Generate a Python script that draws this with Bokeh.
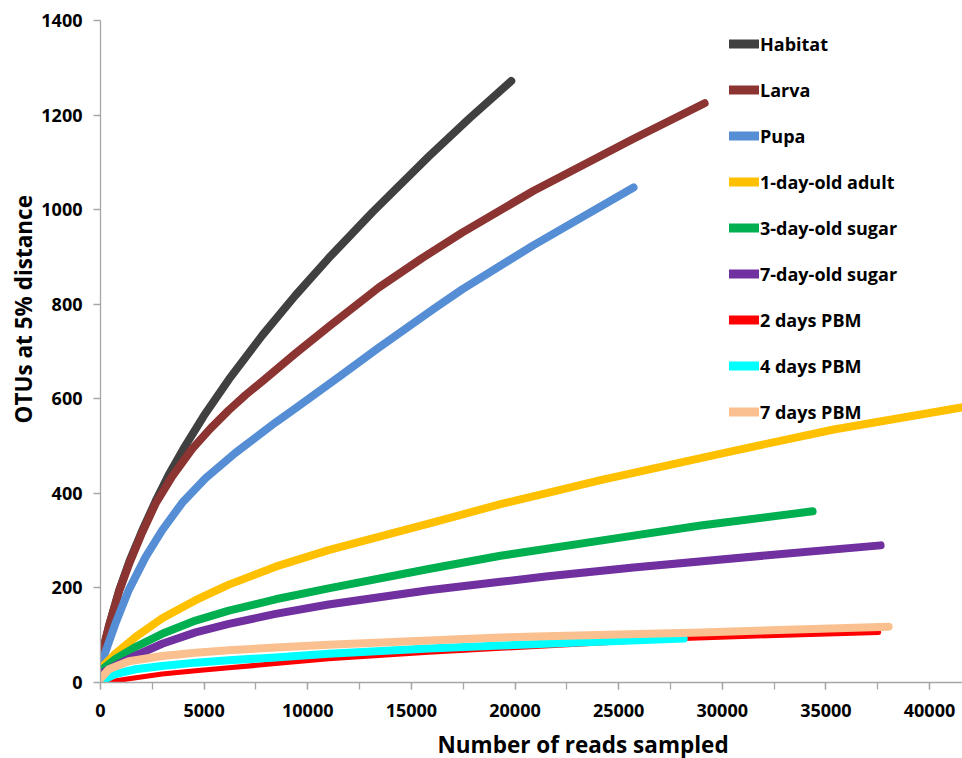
import math
from bokeh.plotting import figure
from bokeh.models import (SingleIntervalTicker, NumeralTickFormatter, Legend, LegendItem, Title)
from bokeh.embed import file_html
from bokeh.resources import INLINE

# ---------------- data ----------------
names = ["Habitat", "Larva", "Pupa", "1-day-old adult", "3-day-old sugar",
         "7-day-old sugar", "2 days PBM", "4 days PBM", "7 days PBM"]
colors = ["#404040", "#8B3431", "#558ED5", "#FFC000", "#00B050",
          "#7030A0", "#FF0000", "#00FFFF", "#FAC090"]

habitat_x = [0, 400, 900, 1400, 2000, 2654, 3300, 4000, 4986, 6193, 7803, 9411, 11000, 13130, 15830, 17800, 19820]
habitat_y = [45, 118, 195, 257, 320, 383, 440, 494, 564, 641, 734, 819, 897, 995, 1112, 1193, 1272]

larva_x = [0, 400, 900, 1400, 2000, 2654, 3459, 4424, 5300, 6193, 7000, 7803, 9410, 11000, 13420, 15500, 17470, 20900, 25720, 29150]
larva_y = [50, 118, 193, 253, 316, 378, 436, 494, 537, 576, 608, 637, 696, 752, 835, 897, 952, 1040, 1150, 1225]

pupa_x = [0, 241, 724, 1367, 2172, 2976, 3941, 5067, 6515, 8445, 9411, 11680, 13420, 16070, 17470, 20900, 25720]
pupa_y = [32, 65, 125, 196, 265, 322, 380, 432, 486, 550, 580, 652, 708, 790, 832, 925, 1047]

adult1_x = [0, 724, 1689, 2976, 4585, 6193, 8445, 11000, 15830, 19300, 21480, 24130, 30550, 35380, 41600]
adult1_y = [29, 61, 96, 136, 174, 207, 245, 280, 336, 377, 400, 428, 490, 535, 582]

sugar3_x = [0, 724, 1689, 2976, 4585, 6193, 8445, 11000, 15830, 19300, 24130, 28960, 34360]
sugar3_y = [25, 50, 75, 103, 131, 152, 176, 199, 240, 268, 300, 332, 362]

sugar7_x = [0, 724, 1689, 2976, 4585, 6193, 8445, 11000, 15830, 19300, 21480, 25720, 32190, 37640]
sugar7_y = [18, 36, 57, 82, 106, 124, 145, 165, 195, 213, 224, 243, 269, 290]

pbm2_x = [241, 1367, 2976, 4585, 6193, 8445, 11000, 15830, 28140, 32190, 37550]
pbm2_y = [0, 8, 18, 25, 31, 40, 50, 64, 93, 99, 106]

pbm4_x = [0, 724, 1689, 2976, 4585, 6193, 8445, 11000, 15830, 19300, 21480, 28140]
pbm4_y = [2, 18, 28, 35, 42, 47, 53, 61, 72, 78, 82, 93]

pbm7_x = [0, 402, 1367, 2976, 4585, 6193, 8445, 11000, 15830, 19300, 21480, 28960, 38030]
pbm7_y = [8, 28, 45, 56, 63, 68, 74, 80, 89, 95, 98, 106, 118]

xs = [habitat_x, larva_x, pupa_x, adult1_x, sugar3_x, sugar7_x, pbm2_x, pbm4_x, pbm7_x]
ys = [habitat_y, larva_y, pupa_y, adult1_y, sugar3_y, sugar7_y, pbm2_y, pbm4_y, pbm7_y]
widths = [8, 8, 8, 8, 8, 8, 5, 8, 8]

x_ticks_interval = 5000
y_ticks_interval = 200

FONT = "Open Sans"

p = figure(frame_width=862, frame_height=662, min_border_left=100, min_border_right=0,
           min_border_top=20, min_border_bottom=76,
           x_range=(0, 41592), y_range=(0, 1400),
           output_backend="svg", toolbar_location=None)
p.grid.visible = False
p.outline_line_color = None
p.background_fill_color = "white"

for x, y, c, w in zip(xs, ys, colors, widths):
    p.line(x, y, line_color=c, line_width=w, line_cap="round", line_join="round")

# legend samples: hidden copies of the same series, drawn with a uniform thick stroke
items = []
for n, c, x, y in zip(names, colors, xs, ys):
    r = p.line(x, y, line_color=c, line_width=9, line_cap="round", visible=False)
    items.append(LegendItem(label=n, renderers=[r]))
legend = Legend(items=items, location=(629, 258), orientation="vertical",
                glyph_width=30, glyph_height=25, label_height=25, spacing=21,
                label_standoff=1, padding=0, margin=0,
                border_line_color=None, background_fill_alpha=0,
                label_text_font=FONT, label_text_font_style="bold",
                label_text_font_size="18px", label_text_color="black")
p.add_layout(legend, "center")

# axes
for ax in (p.xaxis[0], p.yaxis[0]):
    ax.axis_line_color = "#A6A6A6"
    ax.axis_line_width = 1.3
    ax.major_tick_line_color = "#A6A6A6"
    ax.minor_tick_line_color = "#A6A6A6"
    ax.major_tick_line_width = 1.3
    ax.minor_tick_line_width = 1.3
    ax.major_tick_in = 0
    ax.major_tick_out = 7
    ax.minor_tick_in = 0
    ax.minor_tick_out = 7
    ax.major_label_text_font = FONT
    ax.major_label_text_font_style = "bold"
    ax.major_label_text_font_size = "18px"
    ax.major_label_text_color = "black"

p.xaxis[0].ticker = SingleIntervalTicker(interval=x_ticks_interval, num_minor_ticks=2)
p.yaxis[0].ticker = SingleIntervalTicker(interval=y_ticks_interval, num_minor_ticks=0)
p.xaxis[0].formatter = NumeralTickFormatter(format="0")
p.yaxis[0].formatter = NumeralTickFormatter(format="0")
p.xaxis[0].major_label_standoff = 14
p.yaxis[0].major_label_standoff = 11

# axis titles
p.add_layout(Title(text="Number of reads sampled", align="left", offset=337,
                   standoff=14, text_font=FONT, text_font_style="bold",
                   text_font_size="22.5px", text_color="black"), "below")
p.add_layout(Title(text="OTUs at 5% distance", align="left", offset=259,
                   standoff=0, text_font=FONT, text_font_style="bold",
                   text_font_size="22.5px", text_color="black"), "left")

open("out.html", "w").write(file_html(p, INLINE))
